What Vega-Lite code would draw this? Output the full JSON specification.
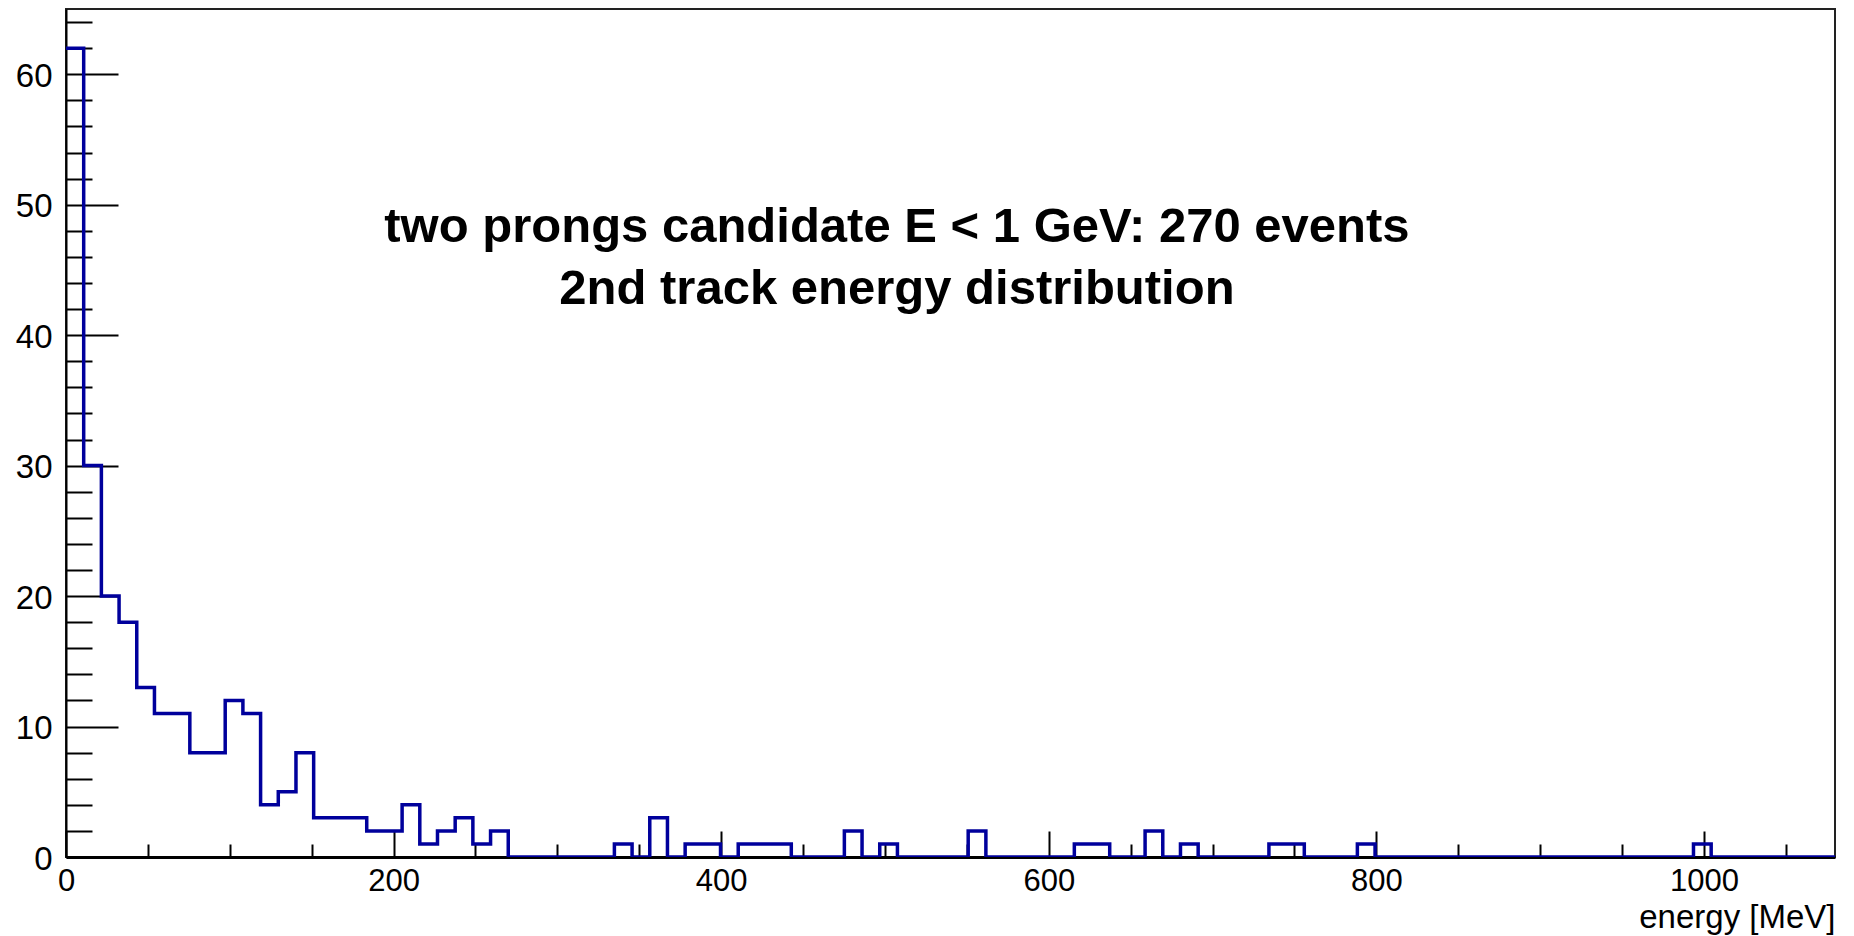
{
  "$schema": "https://vega.github.io/schema/vega-lite/v6.json",
  "width": 1769,
  "height": 848,
  "autosize": {"type": "none"},
  "padding": {"left": 66, "top": 9, "right": 19, "bottom": 79},
  "background": "white",
  "config": {
    "font": "Liberation Sans",
    "view": {"stroke": "#222222", "strokeWidth": 2},
    "axis": {"grid": false, "domainColor": "black", "tickColor": "black", "labelColor": "black", "titleColor": "black", "labelFont": "Liberation Sans", "titleFont": "Liberation Sans", "labelFlush": false, "labelOverlap": false}
  },
  "datasets": {
    "bins": [
      {"lo": 0, "hi": 10.8, "n": 62},
      {"lo": 10.8, "hi": 21.6, "n": 30},
      {"lo": 21.6, "hi": 32.4, "n": 20},
      {"lo": 32.4, "hi": 43.2, "n": 18},
      {"lo": 43.2, "hi": 54, "n": 13},
      {"lo": 54, "hi": 64.8, "n": 11},
      {"lo": 64.8, "hi": 75.6, "n": 11},
      {"lo": 75.6, "hi": 86.4, "n": 8},
      {"lo": 86.4, "hi": 97.2, "n": 8},
      {"lo": 97.2, "hi": 108, "n": 12},
      {"lo": 108, "hi": 118.8, "n": 11},
      {"lo": 118.8, "hi": 129.6, "n": 4},
      {"lo": 129.6, "hi": 140.4, "n": 5},
      {"lo": 140.4, "hi": 151.2, "n": 8},
      {"lo": 151.2, "hi": 162, "n": 3},
      {"lo": 162, "hi": 172.8, "n": 3},
      {"lo": 172.8, "hi": 183.6, "n": 3},
      {"lo": 183.6, "hi": 194.4, "n": 2},
      {"lo": 194.4, "hi": 205.2, "n": 2},
      {"lo": 205.2, "hi": 216, "n": 4},
      {"lo": 216, "hi": 226.8, "n": 1},
      {"lo": 226.8, "hi": 237.6, "n": 2},
      {"lo": 237.6, "hi": 248.4, "n": 3},
      {"lo": 248.4, "hi": 259.2, "n": 1},
      {"lo": 259.2, "hi": 270, "n": 2},
      {"lo": 270, "hi": 280.8, "n": 0},
      {"lo": 280.8, "hi": 291.6, "n": 0},
      {"lo": 291.6, "hi": 302.4, "n": 0},
      {"lo": 302.4, "hi": 313.2, "n": 0},
      {"lo": 313.2, "hi": 324, "n": 0},
      {"lo": 324, "hi": 334.8, "n": 0},
      {"lo": 334.8, "hi": 345.6, "n": 1},
      {"lo": 345.6, "hi": 356.4, "n": 0},
      {"lo": 356.4, "hi": 367.2, "n": 3},
      {"lo": 367.2, "hi": 378, "n": 0},
      {"lo": 378, "hi": 388.8, "n": 1},
      {"lo": 388.8, "hi": 399.6, "n": 1},
      {"lo": 399.6, "hi": 410.4, "n": 0},
      {"lo": 410.4, "hi": 421.2, "n": 1},
      {"lo": 421.2, "hi": 432, "n": 1},
      {"lo": 432, "hi": 442.8, "n": 1},
      {"lo": 442.8, "hi": 453.6, "n": 0},
      {"lo": 453.6, "hi": 464.4, "n": 0},
      {"lo": 464.4, "hi": 475.2, "n": 0},
      {"lo": 475.2, "hi": 486, "n": 2},
      {"lo": 486, "hi": 496.8, "n": 0},
      {"lo": 496.8, "hi": 507.6, "n": 1},
      {"lo": 507.6, "hi": 518.4, "n": 0},
      {"lo": 518.4, "hi": 529.2, "n": 0},
      {"lo": 529.2, "hi": 540, "n": 0},
      {"lo": 540, "hi": 550.8, "n": 0},
      {"lo": 550.8, "hi": 561.6, "n": 2},
      {"lo": 561.6, "hi": 572.4, "n": 0},
      {"lo": 572.4, "hi": 583.2, "n": 0},
      {"lo": 583.2, "hi": 594, "n": 0},
      {"lo": 594, "hi": 604.8, "n": 0},
      {"lo": 604.8, "hi": 615.6, "n": 0},
      {"lo": 615.6, "hi": 626.4, "n": 1},
      {"lo": 626.4, "hi": 637.2, "n": 1},
      {"lo": 637.2, "hi": 648, "n": 0},
      {"lo": 648, "hi": 658.8, "n": 0},
      {"lo": 658.8, "hi": 669.6, "n": 2},
      {"lo": 669.6, "hi": 680.4, "n": 0},
      {"lo": 680.4, "hi": 691.2, "n": 1},
      {"lo": 691.2, "hi": 702, "n": 0},
      {"lo": 702, "hi": 712.8, "n": 0},
      {"lo": 712.8, "hi": 723.6, "n": 0},
      {"lo": 723.6, "hi": 734.4, "n": 0},
      {"lo": 734.4, "hi": 745.2, "n": 1},
      {"lo": 745.2, "hi": 756, "n": 1},
      {"lo": 756, "hi": 766.8, "n": 0},
      {"lo": 766.8, "hi": 777.6, "n": 0},
      {"lo": 777.6, "hi": 788.4, "n": 0},
      {"lo": 788.4, "hi": 799.2, "n": 1},
      {"lo": 799.2, "hi": 810, "n": 0},
      {"lo": 810, "hi": 820.8, "n": 0},
      {"lo": 820.8, "hi": 831.6, "n": 0},
      {"lo": 831.6, "hi": 842.4, "n": 0},
      {"lo": 842.4, "hi": 853.2, "n": 0},
      {"lo": 853.2, "hi": 864, "n": 0},
      {"lo": 864, "hi": 874.8, "n": 0},
      {"lo": 874.8, "hi": 885.6, "n": 0},
      {"lo": 885.6, "hi": 896.4, "n": 0},
      {"lo": 896.4, "hi": 907.2, "n": 0},
      {"lo": 907.2, "hi": 918, "n": 0},
      {"lo": 918, "hi": 928.8, "n": 0},
      {"lo": 928.8, "hi": 939.6, "n": 0},
      {"lo": 939.6, "hi": 950.4, "n": 0},
      {"lo": 950.4, "hi": 961.2, "n": 0},
      {"lo": 961.2, "hi": 972, "n": 0},
      {"lo": 972, "hi": 982.8, "n": 0},
      {"lo": 982.8, "hi": 993.6, "n": 0},
      {"lo": 993.6, "hi": 1004.4, "n": 1},
      {"lo": 1004.4, "hi": 1015.2, "n": 0},
      {"lo": 1015.2, "hi": 1026, "n": 0},
      {"lo": 1026, "hi": 1036.8, "n": 0},
      {"lo": 1036.8, "hi": 1047.6, "n": 0},
      {"lo": 1047.6, "hi": 1058.4, "n": 0},
      {"lo": 1058.4, "hi": 1069.2, "n": 0},
      {"lo": 1069.2, "hi": 1080, "n": 0}
    ]
  },
  "layer": [
    {
      "data": {"name": "bins"},
      "transform": [{"fold": ["lo", "hi"], "as": ["edge", "e"]}],
      "mark": {"type": "line", "color": "#00009c", "strokeWidth": 3.5, "strokeJoin": "miter", "strokeCap": "butt", "clip": true},
      "encoding": {
        "x": {
          "field": "e", "type": "quantitative",
          "scale": {"domain": [0, 1080], "nice": false, "zero": false},
          "axis": {"orient": "bottom", "values": [50, 100, 150, 250, 300, 350, 450, 500, 550, 650, 700, 750, 850, 900, 950, 1050], "tickSize": -13, "tickWidth": 2, "labels": false, "domain": false, "title": null}
        },
        "y": {
          "field": "n", "type": "quantitative",
          "scale": {"domain": [0, 65], "nice": false},
          "axis": {"orient": "left", "values": [2, 4, 6, 8, 12, 14, 16, 18, 22, 24, 26, 28, 32, 34, 36, 38, 42, 44, 46, 48, 52, 54, 56, 58, 62, 64], "tickSize": -26, "tickWidth": 2, "labels": false, "domain": false, "title": null}
        },
        "order": [
          {"field": "lo", "type": "quantitative"},
          {"field": "edge", "sort": "descending"}
        ]
      }
    },
    {
      "data": {"values": [{}]},
      "mark": {"type": "text", "text": ["two prongs candidate E < 1 GeV: 270 events", "2nd track energy distribution"], "font": "Liberation Sans", "fontSize": 49, "fontWeight": "bold", "align": "center", "baseline": "middle", "lineHeight": 62, "color": "black"},
      "encoding": {
        "x": {
          "datum": 507.3, "type": "quantitative",
          "scale": {"domain": [0, 1080], "nice": false, "zero": false},
          "axis": {"orient": "bottom", "values": [0, 200, 400, 600, 800, 1000], "format": "d", "tickSize": -26, "tickWidth": 2, "domainWidth": 3, "labelFontSize": 31, "labelPadding": 35, "title": "energy [MeV]", "titleAnchor": "end", "titleAlign": "right", "titleBaseline": "alphabetic", "titleY": 70, "titleFontSize": 33, "titleFontWeight": "normal"}
        },
        "y": {
          "datum": 48.3, "type": "quantitative",
          "scale": {"domain": [0, 65], "nice": false},
          "axis": {"orient": "left", "values": [0, 10, 20, 30, 40, 50, 60], "format": "d", "tickSize": -52, "tickWidth": 2, "domainWidth": 2, "labelFontSize": 33, "labelPadding": 66, "labelOffset": 2, "title": null}
        }
      }
    }
  ],
  "resolve": {"axis": {"x": "independent", "y": "independent"}}
}
